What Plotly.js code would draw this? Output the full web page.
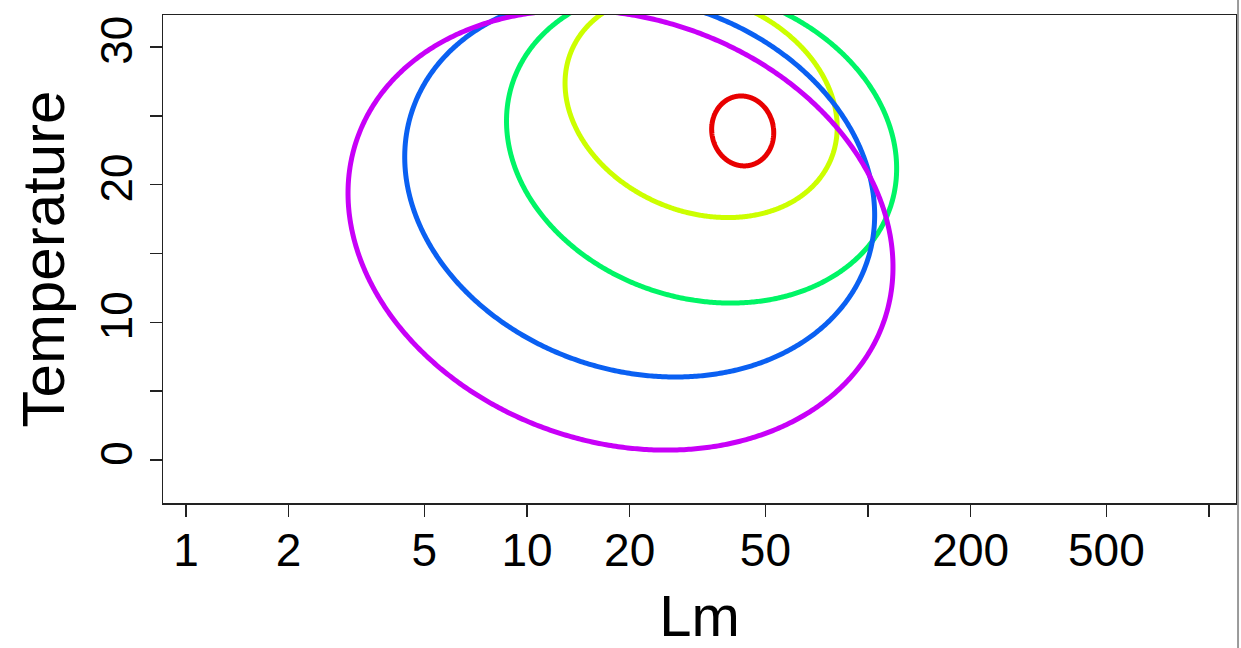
<!DOCTYPE html>
<html>
<head>
<meta charset="utf-8">
<script src="https://cdn.plot.ly/plotly-3.0.1.min.js"></script>
<style>html,body{margin:0;padding:0;background:#fff;}#chart{width:1241px;height:648px;}</style>
</head>
<body>
<div id="chart"></div>
<script>
// Ellipse summaries (one per group)
const groupNames = ['Group 1', 'Group 2', 'Group 3', 'Group 4', 'Group 5'];
const centerLm = [42.9, 32.4, 32.5, 21.4, 18.8];
const halfSpanLog10Lm = [0.091, 0.399, 0.572, 0.689, 0.799];
const centerTemp = [23.9, 25.77, 22.9, 19.9, 16.7];
const halfSpanTemp = [2.54, 8.16, 11.5, 13.87, 15.98];
const correlation = [-0.05, -0.196, -0.15, -0.152, -0.168];
const groupColors = ['#E80000', '#CCFF00', '#00F566', '#0A60F2', '#C800F8'];

// Axis ticks
const xTickVals = [1, 2, 5, 10, 20, 50, 100, 200, 500, 1000];
const xTickText = ['1', '2', '5', '10', '20', '50', '', '200', '500', ''];
const yTickVals = [0, 5, 10, 15, 20, 25, 30];
const yTickText = ['0', '', '10', '', '20', '', '30'];

const nPts = 720;
const traces = groupNames.map((name, i) => {
  const xs = [], ys = [];
  const lc = Math.log10(centerLm[i]);
  const phi = Math.acos(correlation[i]);
  for (let k = 0; k <= nPts; k++) {
    const t = 2 * Math.PI * k / nPts;
    xs.push(Math.pow(10, lc + halfSpanLog10Lm[i] * Math.cos(t)));
    ys.push(centerTemp[i] + halfSpanTemp[i] * Math.cos(t + phi));
  }
  return {
    type: 'scatter', mode: 'lines', name: name, x: xs, y: ys,
    line: {color: groupColors[i], width: 5, simplify: false},
    hoverinfo: 'skip', showlegend: false
  };
});

const fontFam = 'Liberation Sans, Arial, Helvetica, sans-serif';
const layout = {
  width: 1241, height: 648,
  margin: {l: 163, r: 5, t: 15, b: 145, pad: 0},
  paper_bgcolor: '#ffffff', plot_bgcolor: '#ffffff',
  showlegend: false,
  xaxis: {
    type: 'log', range: [-0.0674, 3.079],
    tickmode: 'array', tickvals: xTickVals, ticktext: xTickText,
    ticks: 'outside', ticklen: 12, tickwidth: 1.5, tickcolor: '#222',
    ticklabelstandoff: -6,
    showline: true, linecolor: '#222', linewidth: 1.5, mirror: true,
    showgrid: false, zeroline: false,
    tickfont: {family: fontFam, size: 46, color: '#000'},
    title: {text: 'Lm', font: {family: fontFam, size: 58, color: '#000'}, standoff: 26}
  },
  yaxis: {
    range: [-3.12, 32.32],
    tickmode: 'array', tickvals: yTickVals, ticktext: yTickText, tickangle: -90,
    ticks: 'outside', ticklen: 12, tickwidth: 1.5, tickcolor: '#222',
    showline: true, linecolor: '#222', linewidth: 1.5, mirror: true,
    showgrid: false, zeroline: false,
    tickfont: {family: fontFam, size: 44, color: '#000'},
    title: {text: 'Temperature', font: {family: fontFam, size: 60, color: '#000'}, standoff: 8}
  },
  shapes: [
    {type: 'line', xref: 'paper', yref: 'paper', x0: 1.0019, x1: 1.0019, y0: -0.3, y1: 1.04,
     line: {color: '#9a9a9a', width: 2}}
  ]
};

Plotly.newPlot('chart', traces, layout, {displayModeBar: false, staticPlot: true});
</script>
</body>
</html>
